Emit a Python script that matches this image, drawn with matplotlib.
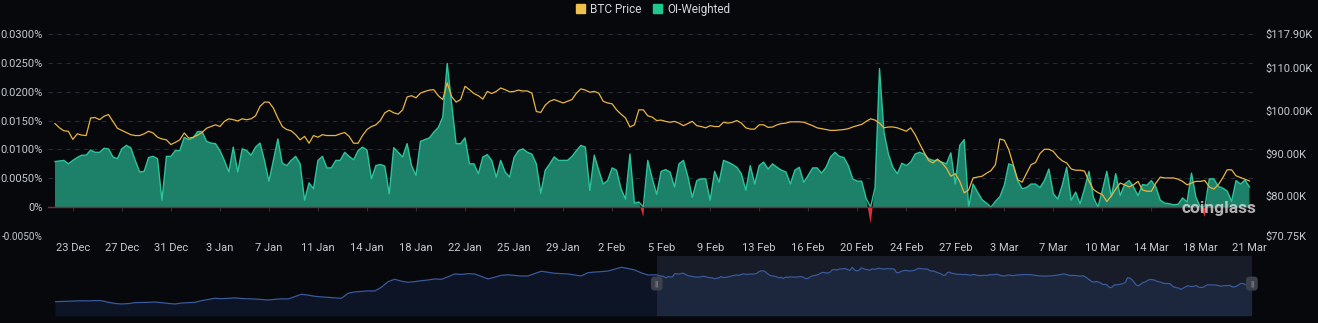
import numpy as np
import pandas as pd
import matplotlib.pyplot as plt
from matplotlib.patches import Patch

# OI-weighted funding rate (%), 8-hourly, starting 22 Dec 08:00
funding = [
    0.0079, 0.0080, 0.0081, 0.0075, 0.0081, 0.0086, 0.0090, 0.0090, 0.0099, 0.0095,
    0.0095, 0.0102, 0.0101, 0.0087, 0.0084, 0.0101, 0.0107, 0.0103, 0.0081, 0.0061,
    0.0062, 0.0086, 0.0088, 0.0084, 0.0012, 0.0088, 0.0088, 0.0098, 0.0098, 0.0121,
    0.0117, 0.0120, 0.0131, 0.0131, 0.0114, 0.0111, 0.0110, 0.0098, 0.0081, 0.0061,
    0.0104, 0.0061, 0.0101, 0.0098, 0.0090, 0.0104, 0.0111, 0.0081, 0.0045, 0.0081,
    0.0118, 0.0076, 0.0072, 0.0081, 0.0088, 0.0075, 0.0012, 0.0042, 0.0032, 0.0081,
    0.0088, 0.0068, 0.0068, 0.0081, 0.0081, 0.0095, 0.0088, 0.0082, 0.0098, 0.0104,
    0.0099, 0.0049, 0.0072, 0.0074, 0.0071, 0.0023, 0.0103, 0.0095, 0.0087, 0.0110,
    0.0072, 0.0055, 0.0114, 0.0117, 0.0120, 0.0130, 0.0138, 0.0156, 0.0249, 0.0179,
    0.0110, 0.0110, 0.0120, 0.0075, 0.0075, 0.0058, 0.0087, 0.0091, 0.0081, 0.0052,
    0.0081, 0.0061, 0.0052, 0.0086, 0.0098, 0.0101, 0.0095, 0.0092, 0.0075, 0.0024,
    0.0064, 0.0075, 0.0087, 0.0081, 0.0081, 0.0081, 0.0088, 0.0098, 0.0107, 0.0104,
    0.0029, 0.0090, 0.0064, 0.0040, 0.0046, 0.0068, 0.0064, 0.0032, 0.0014, 0.0092,
    0.0007, 0.0009, -0.0017, 0.0081, 0.0050, 0.0022, 0.0062, 0.0065, 0.0061, 0.0035,
    0.0075, 0.0081, 0.0053, 0.0017, 0.0046, 0.0049, 0.0049, 0.0012, 0.0062, 0.0043,
    0.0081, 0.0078, 0.0074, 0.0069, 0.0058, 0.0029, 0.0072, 0.0040, 0.0072, 0.0078,
    0.0066, 0.0075, 0.0069, 0.0064, 0.0061, 0.0040, 0.0064, 0.0069, 0.0043, 0.0055,
    0.0068, 0.0068, 0.0059, 0.0069, 0.0087, 0.0095, 0.0088, 0.0086, 0.0072, 0.0049,
    0.0045, 0.0045, 0.0015, -0.0028, 0.0034, 0.0240, 0.0130, 0.0092, 0.0069, 0.0058,
    0.0076, 0.0072, 0.0078, 0.0092, 0.0095, 0.0092, 0.0084, 0.0081, 0.0081, 0.0078,
    0.0075, 0.0094, 0.0040, 0.0107, 0.0117, -0.0003, 0.0040, 0.0026, 0.0013, 0.0007,
    -0.0003, 0.0010, 0.0018, 0.0038, 0.0075, 0.0072, 0.0046, 0.0032, 0.0034, 0.0040,
    0.0040, 0.0034, 0.0046, 0.0066, 0.0023, 0.0014, 0.0038, 0.0069, 0.0012, 0.0026,
    0.0006, 0.0032, 0.0062, 0.0017, -0.0003, 0.0029, 0.0062, 0.0018, 0.0058, 0.0020,
    0.0040, 0.0046, 0.0035, 0.0020, 0.0039, 0.0038, 0.0046, 0.0035, 0.0012, 0.0007,
    0.0006, 0.0004, 0.0005, 0.0016, 0.0009, 0.0059, 0.0017, 0.0000, -0.0017, 0.0049,
    0.0049, 0.0036, 0.0033, 0.0028, 0.0010, 0.0046, 0.0040, 0.0047, 0.0035,
]

# BTC price (thousand USD), same timestamps
btc_price = [
    97.0, 96.0, 95.3, 95.2, 93.3, 94.6, 94.3, 94.2, 98.3, 98.4,
    97.9, 98.7, 99.1, 97.5, 95.9, 95.4, 94.9, 94.4, 94.2, 94.2,
    94.6, 95.2, 94.8, 93.8, 93.4, 93.2, 92.1, 92.6, 93.2, 94.8,
    93.6, 93.8, 94.3, 94.9, 95.9, 96.3, 96.7, 96.3, 97.5, 98.1,
    97.9, 97.6, 98.1, 97.9, 98.1, 98.8, 101.0, 102.0, 102.0, 100.6,
    98.3, 96.3, 95.6, 95.3, 94.4, 93.2, 94.0, 92.4, 94.2, 93.8,
    94.4, 94.2, 94.2, 94.2, 94.6, 94.9, 94.0, 92.4, 92.4, 94.2,
    95.6, 96.3, 96.7, 97.7, 99.5, 100.1, 99.5, 99.2, 100.2, 103.2,
    103.5, 103.0, 104.1, 104.5, 104.8, 104.9, 103.5, 102.6, 106.5, 103.3,
    102.0, 102.6, 105.7, 104.9, 104.0, 103.5, 102.7, 104.5, 104.0, 104.5,
    105.3, 104.9, 104.4, 104.5, 104.8, 104.6, 104.6, 104.1, 99.8, 99.6,
    101.3, 102.2, 102.6, 102.2, 101.8, 102.2, 102.6, 104.1, 105.1, 104.8,
    104.3, 104.5, 104.1, 102.2, 101.8, 101.6, 100.2, 99.2, 98.3, 96.2,
    96.7, 100.2, 100.2, 98.8, 98.5, 97.7, 97.8, 97.5, 97.3, 97.5,
    97.1, 96.5, 97.0, 97.5, 96.5, 96.3, 96.0, 96.5, 96.3, 96.3,
    97.3, 97.1, 97.3, 97.7, 97.1, 96.0, 95.7, 95.7, 96.7, 96.7,
    96.1, 96.2, 96.7, 97.0, 97.1, 97.4, 97.4, 97.4, 97.3, 96.9,
    96.5, 96.0, 95.8, 95.6, 95.4, 95.4, 95.5, 95.6, 95.8, 96.2,
    96.5, 96.8, 97.5, 98.1, 97.8, 97.1, 96.0, 96.2, 96.2, 96.0,
    95.6, 95.2, 96.0, 94.4, 92.3, 90.3, 88.4, 87.8, 88.7, 87.8,
    86.6, 84.7, 85.3, 83.5, 80.8, 81.5, 84.3, 84.5, 84.7, 85.4,
    86.0, 87.4, 93.4, 93.1, 90.9, 87.4, 83.9, 83.3, 85.4, 87.4,
    87.9, 90.0, 91.0, 91.0, 90.5, 89.2, 88.3, 87.8, 86.4, 86.1,
    86.1, 85.9, 83.5, 81.6, 80.9, 80.4, 78.8, 80.1, 81.7, 83.1,
    82.7, 82.2, 82.7, 83.5, 81.5, 81.2, 81.2, 83.1, 84.5, 84.3,
    84.3, 84.3, 84.0, 83.5, 82.7, 83.1, 83.5, 83.5, 83.7, 82.2,
    81.7, 82.7, 84.3, 86.2, 86.2, 84.8, 84.4, 84.0, 83.6,
]

# daily BTC price (thousand USD) shown only in the zoom navigator, 23 Sep - 21 Dec
nav_early_price = [
    63.2, 63.5, 63.8, 64.0, 64.4, 64.2, 64.6, 64.4, 62.5, 61.0,
    60.3, 60.8, 62.0, 62.2, 62.4, 62.8, 62.0, 61.0, 60.3, 61.5,
    62.0, 62.4, 64.5, 66.0, 67.5, 67.0, 67.4, 68.0, 67.2, 66.8,
    66.6, 66.0, 65.3, 66.2, 66.8, 66.6, 69.5, 72.5, 71.5, 70.0,
    69.2, 68.7, 68.0, 67.5, 73.8, 75.5, 76.2, 76.8, 76.7, 81.3,
    88.4, 91.4, 89.0, 87.6, 88.5, 89.6, 90.5, 91.8, 91.4, 94.5,
    98.1, 97.5, 98.5, 98.1, 95.0, 91.8, 94.0, 96.4, 97.0, 96.2,
    95.5, 95.6, 98.5, 101.5, 100.2, 99.0, 98.5, 98.1, 96.8, 95.6,
    99.7, 100.5, 101.0, 101.8, 104.2, 106.5, 105.0, 103.1, 99.5, 96.8,
]

left_ticks = [-0.005, 0.0, 0.005, 0.010, 0.015, 0.020, 0.025, 0.030]
right_ticks = [70.75, 80, 90, 100, 110, 117.9]

W, H = 1318, 323
BG = "#06080c"
TXT = "#c4c8cf"
GREEN_FILL = "#1d8069"
GREEN_EDGE = "#2cc49a"
RED = "#e02f3e"
GOLD = "#e9b43f"

plt.rcParams["font.family"] = ["Roboto", "DejaVu Sans"]

times = pd.date_range("2024-12-22 08:00", periods=len(funding), freq="8h")
nav_times = pd.date_range("2024-09-23", periods=len(nav_early_price), freq="D").append(times)
nav_price = np.array(nav_early_price + btc_price)

f = np.array(funding)
step = pd.Timedelta(hours=8)

fig = plt.figure(figsize=(W / 100, H / 100), dpi=100, facecolor=BG)

# main chart
ax = fig.add_axes([48 / W, (H - 236) / H, (1253 - 48) / W, 202 / H])
ax.set_facecolor(BG)
ax.fill_between(times, f, 0, where=f >= 0, interpolate=True, color=GREEN_FILL, lw=0, zorder=2)
ax.fill_between(times, f, 0, where=f <= 0, interpolate=True, color=RED, lw=0, zorder=2)
pos = np.where(f >= 0, f, 0)
ax.plot(times, pos, color=GREEN_EDGE, lw=1.0, zorder=3)
ax.axhline(0, color="#8a2531", lw=1.0, zorder=3)
ax.set_ylim(-0.005, 0.030)
ax.set_xlim(times[0] - 1.57 * step, times[-1] + 0.8 * step)
ax.set_yticks(left_ticks)
ax.set_yticklabels(["0%" if v == 0 else f"{v:.4f}%" for v in left_ticks])
ax.grid(axis="y", color="#262a33", lw=0.8, linestyle=(0, (4, 4)))
ax.set_axisbelow(True)
for s in ax.spines.values():
    s.set_visible(False)

tick_times = times[4::11]
ax.set_xticks(tick_times)
ax.set_xticklabels([f"{t.day} {t.strftime('%b')}" for t in tick_times])
ax.vlines(tick_times, -0.0007, 0, color="#2c3038", lw=0.8, zorder=1)
ax.tick_params(axis="both", length=0, colors=TXT, labelsize=8)
ax.tick_params(axis="y", pad=4)
ax.tick_params(axis="x", pad=5)
# the lowest label is wider than the margin; shrink it a little so it stays on the canvas
ax.get_yticklabels()[0].set_fontsize(7.2)

ax2 = ax.twinx()
ax2.plot(times, btc_price, color=GOLD, lw=0.9, zorder=4)
ax2.set_ylim(70.75, 117.9)
ax2.set_yticks(right_ticks)
ax2.set_yticklabels([f"${v:.2f}K" for v in right_ticks])
ax2.tick_params(axis="y", length=0, colors=TXT, labelsize=8, pad=9)
for s in ax2.spines.values():
    s.set_visible(False)

fig.text(1181 / W, (H - 209) / H, "coinglass", color="#dcdcdc", alpha=0.8,
         fontsize=12.5, fontweight="bold", va="center", ha="left")

# legend
handles = [Patch(color="#f0c04c"), Patch(color="#1ec98e")]
fig.legend(handles, ["BTC Price", "OI-Weighted"], loc="upper center",
           bbox_to_anchor=(653 / W, 1.025), ncol=2, frameon=False,
           fontsize=8.5, labelcolor="#d3d6dc", handlelength=0.8, handleheight=0.8,
           handletextpad=0.4, columnspacing=1.0)

# zoom navigator
nav = fig.add_axes([55 / W, (H - 316) / H, 1198 / W, 60 / H])
nav.set_facecolor(BG)
nav.fill_between(nav_times, nav_price, 45.2, color="#0d1425", lw=0, zorder=1)
nav.axvspan(times[0], times[-1], color="#6b80b8", alpha=0.17, lw=0, zorder=2)
nav.plot(nav_times, nav_price, color="#3a5a9e", lw=0.9, zorder=3)
nav.set_xlim(nav_times[0], times[-1] + 0.5 * step)
nav.set_ylim(45.2, 120.7)
nav.set_xticks([])
nav.set_yticks([])
for s in nav.spines.values():
    s.set_visible(False)
for t in (times[0], times[-1]):
    nav.text(t, 86, "||", ha="center", va="center", fontsize=6, color="#a0a5ae", zorder=5,
             bbox=dict(boxstyle="round,pad=0.45", fc="#3b404b", ec="none"))

fig.savefig("out.png", dpi=100, facecolor=BG)
